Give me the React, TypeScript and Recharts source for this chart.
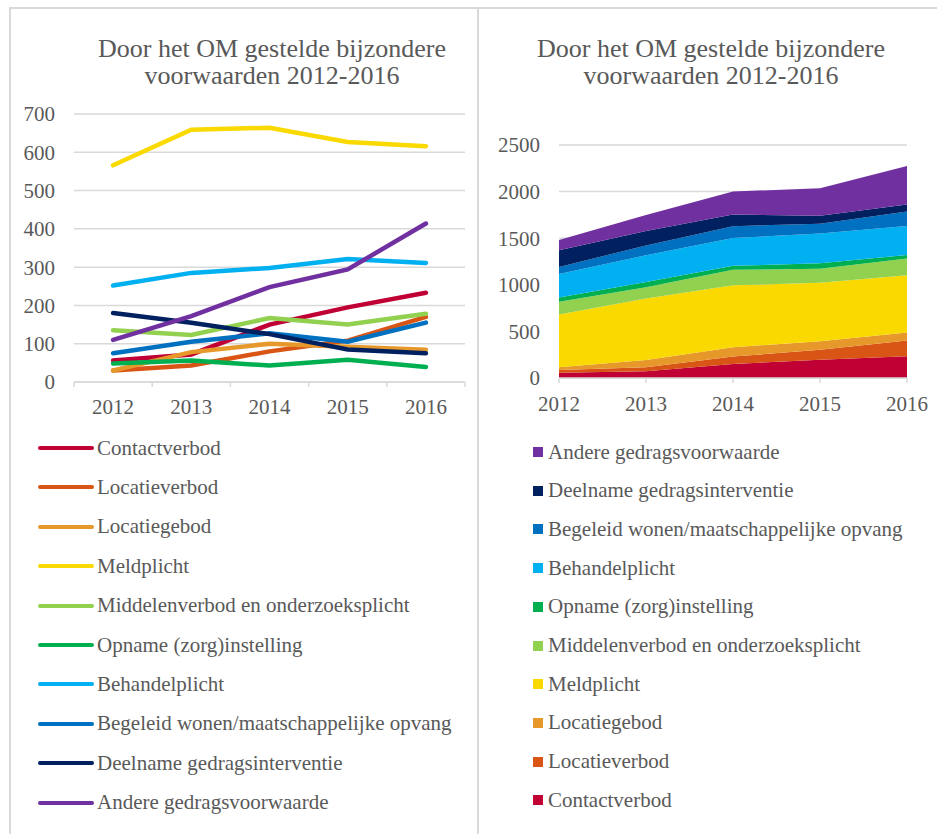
import React from "react";
import {
  LineChart,
  Line,
  AreaChart,
  Area,
  XAxis,
  YAxis,
  CartesianGrid,
  Legend,
} from "recharts";

// Bijzondere voorwaarden per jaar (aflezen uit de grafiek)
const YEARS = ["2012", "2013", "2014", "2015", "2016"];

const contactverbod = [56, 72, 150, 195, 233];
const locatieverbod = [30, 43, 80, 108, 170];
const locatiegebod = [30, 78, 100, 92, 84];
const meldplicht = [566, 659, 664, 627, 616];
const middelenverbod = [135, 123, 167, 150, 178];
const opname = [48, 56, 43, 58, 39];
const behandelplicht = [252, 285, 298, 321, 311];
const begeleidWonen = [75, 105, 127, 105, 155];
const deelname = [180, 155, 125, 85, 75];
const andere = [110, 172, 248, 294, 414];

const LINE_TICKS = [0, 100, 200, 300, 400, 500, 600, 700];
const AREA_TICKS = [0, 500, 1000, 1500, 2000, 2500];

const SERIES = [
  { key: "contactverbod", name: "Contactverbod", color: "#C00034", values: contactverbod },
  { key: "locatieverbod", name: "Locatieverbod", color: "#D85515", values: locatieverbod },
  { key: "locatiegebod", name: "Locatiegebod", color: "#E6992A", values: locatiegebod },
  { key: "meldplicht", name: "Meldplicht", color: "#F9D900", values: meldplicht },
  { key: "middelenverbod", name: "Middelenverbod en onderzoeksplicht", color: "#92D050", values: middelenverbod },
  { key: "opname", name: "Opname (zorg)instelling", color: "#00B050", values: opname },
  { key: "behandelplicht", name: "Behandelplicht", color: "#00B0F0", values: behandelplicht },
  { key: "begeleid", name: "Begeleid wonen/maatschappelijke opvang", color: "#0070C0", values: begeleidWonen },
  { key: "deelname", name: "Deelname gedragsinterventie", color: "#002060", values: deelname },
  { key: "andere", name: "Andere gedragsvoorwaarde", color: "#7030A0", values: andere },
];

const rows = YEARS.map((year, i) => {
  const row: any = { i, year };
  SERIES.forEach((s) => {
    row[s.key] = s.values[i];
  });
  return row;
});

const FONT = '"Times New Roman", "Liberation Serif", serif';
const TEXT = "#595959";
const GRID = "#d9d9d9";
const HALF_BAND = 39.1;

// legend komt alfabetisch binnen; terug naar de volgorde van de reeksen
const seriesOrder = (payload: any[]) =>
  [...(payload || [])].sort(
    (a, b) =>
      SERIES.findIndex((s) => s.name === a.value) - SERIES.findIndex((s) => s.name === b.value)
  );

function BandTick(props: any) {
  const { x, y, payload, index } = props;
  return (
    <g>
      <line x1={x - HALF_BAND} x2={x - HALF_BAND} y1={y} y2={y + 5} stroke={GRID} strokeWidth={1.5} />
      {index === YEARS.length - 1 && (
        <line x1={x + HALF_BAND} x2={x + HALF_BAND} y1={y} y2={y + 5} stroke={GRID} strokeWidth={1.5} />
      )}
      <text x={x} y={y + 32} textAnchor="middle" fill={TEXT} fontSize={21} fontFamily={FONT}>
        {YEARS[payload.value]}
      </text>
    </g>
  );
}

function LineLegend({ payload }: any) {
  return (
    <div style={{ position: "relative", width: 470, height: 400 }}>
      {seriesOrder(payload).map((p: any, i: number) => (
        <div
          key={p.value}
          style={{
            position: "absolute",
            left: 38,
            top: i * 39.4 - 15,
            height: 30,
            display: "flex",
            alignItems: "center",
            whiteSpace: "nowrap",
          }}
        >
          <span style={{ display: "inline-block", width: 56, height: 4, borderRadius: 2, background: p.color }} />
          <span style={{ marginLeft: 3, fontFamily: FONT, fontSize: 21, color: TEXT }}>{p.value}</span>
        </div>
      ))}
    </div>
  );
}

function AreaLegend({ payload }: any) {
  const items = seriesOrder(payload).reverse();
  return (
    <div style={{ position: "relative", width: 450, height: 400 }}>
      {items.map((p: any, i: number) => (
        <div
          key={p.value}
          style={{
            position: "absolute",
            left: 55,
            top: i * 38.7 - 15,
            height: 30,
            display: "flex",
            alignItems: "center",
            whiteSpace: "nowrap",
          }}
        >
          <span style={{ display: "inline-block", width: 10, height: 10, background: p.color }} />
          <span style={{ marginLeft: 5, fontFamily: FONT, fontSize: 21, color: TEXT }}>{p.value}</span>
        </div>
      ))}
    </div>
  );
}

const titleStyle: React.CSSProperties = {
  position: "absolute",
  fontFamily: FONT,
  fontSize: 26,
  lineHeight: "27px",
  color: TEXT,
  textAlign: "center",
  whiteSpace: "nowrap",
};

export default function App() {
  return (
    <div
      style={{
        position: "absolute",
        left: 0,
        top: 0,
        width: 937,
        height: 834,
        background: "#fff",
        overflow: "hidden",
      }}
    >
      {/* kaders */}
      <div style={{ position: "absolute", left: 9, top: 7, width: 940, height: 840, borderLeft: `2px solid ${GRID}`, borderTop: `2px solid ${GRID}` }} />
      <div style={{ position: "absolute", left: 477, top: 7, width: 0, height: 840, borderLeft: `2px solid ${GRID}` }} />

      <div style={{ ...titleStyle, left: 72, width: 400, top: 35 }}>
        Door het OM gestelde bijzondere
        <br />
        voorwaarden 2012-2016
      </div>
      <div style={{ ...titleStyle, left: 511, width: 400, top: 35 }}>
        Door het OM gestelde bijzondere
        <br />
        voorwaarden 2012-2016
      </div>

      {/* lijngrafiek */}
      <div style={{ position: "absolute", left: 0, top: 0 }}>
        <LineChart width={478} height={834} data={rows} margin={{ top: 114, right: 13, bottom: 412, left: 14 }}>
          <CartesianGrid vertical={false} stroke={GRID} strokeWidth={1.5} />
          <XAxis
            dataKey="i"
            type="number"
            domain={[-0.5, 4.5]}
            ticks={[0, 1, 2, 3, 4]}
            height={40}
            tickLine={false}
            tickSize={0}
            tickMargin={0}
            axisLine={{ stroke: GRID, strokeWidth: 1.5 }}
            tick={<BandTick />}
            interval={0}
          />
          <YAxis
            width={60}
            domain={[0, 700]}
            ticks={LINE_TICKS}
            axisLine={false}
            tickLine={false}
            tickSize={0}
            tickMargin={19}
            tick={{ fill: TEXT, fontSize: 21, fontFamily: FONT }}
          />
          <Legend
            layout="vertical"
            align="center"
            verticalAlign="middle"
            content={<LineLegend />}
            wrapperStyle={{ left: 0, top: 448, width: 470, height: 400 }}
          />
          {SERIES.map((s) => (
            <Line
              key={s.key}
              type="linear"
              dataKey={s.key}
              name={s.name}
              stroke={s.color}
              strokeWidth={4.5}
              strokeLinecap="round"
              dot={false}
              isAnimationActive={false}
            />
          ))}
        </LineChart>
      </div>

      {/* gestapelde vlakgrafiek */}
      <div style={{ position: "absolute", left: 478, top: 0 }}>
        <AreaChart width={459} height={834} data={rows} margin={{ top: 145, right: 30, bottom: 416, left: 21 }}>
          <CartesianGrid vertical={false} stroke={GRID} strokeWidth={1.5} />
          <XAxis
            dataKey="year"
            height={40}
            interval={0}
            tickSize={5}
            tickMargin={13}
            tickLine={{ stroke: GRID, strokeWidth: 1.5 }}
            axisLine={{ stroke: GRID, strokeWidth: 1.5 }}
            tick={{ fill: TEXT, fontSize: 21, fontFamily: FONT }}
          />
          <YAxis
            width={60}
            domain={[0, 2500]}
            ticks={AREA_TICKS}
            axisLine={false}
            tickLine={false}
            tickSize={0}
            tickMargin={19}
            tick={{ fill: TEXT, fontSize: 21, fontFamily: FONT }}
          />
          <Legend
            layout="vertical"
            align="center"
            verticalAlign="middle"
            content={<AreaLegend />}
            wrapperStyle={{ left: 0, top: 452, width: 450, height: 400 }}
          />
          {SERIES.map((s) => (
            <Area
              key={s.key}
              type="linear"
              dataKey={s.key}
              name={s.name}
              stackId="1"
              stroke="none"
              fill={s.color}
              fillOpacity={1}
              isAnimationActive={false}
            />
          ))}
        </AreaChart>
      </div>
    </div>
  );
}
